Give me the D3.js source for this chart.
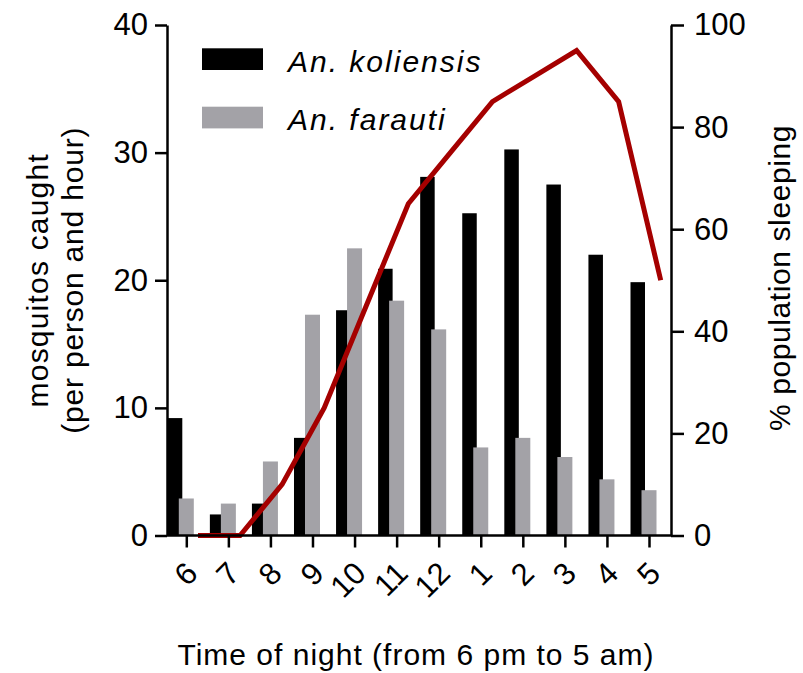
<!DOCTYPE html>
<html>
<head>
<meta charset="utf-8">
<script src="https://cdn.jsdelivr.net/npm/d3@7"></script>
<style>
  body { margin: 0; background: #fff; }
  text { font-family: "Liberation Sans", Arial, sans-serif; fill: #000; }
</style>
</head>
<body>
<svg id="chart"></svg>
<script>
// values
const hours = ["6", "7", "8", "9", "10", "11", "12", "1", "2", "3", "4", "5"];
const koliensis = [9.2, 1.65, 2.5, 7.65, 17.65, 20.9, 28.1, 25.25, 30.25, 27.5, 22.0, 19.85];
const farauti = [2.9, 2.5, 5.8, 17.3, 22.5, 18.4, 16.15, 6.9, 7.65, 6.15, 4.4, 3.55];
const sleeping = [0, 0, 10, 25, 45, 65, 75, 85, 90, 95, 85, 50];
const leftTicks = [0, 10, 20, 30, 40];
const rightTicks = [0, 20, 40, 60, 80, 100];
const seriesNames = ["An. koliensis", "An. farauti"];

const w = 803;
const h = 673;
const plotLeft = 167;
const plotRight = 671;
const plotTop = 25;
const plotBottom = 535.5;
const blackColor = "#000000";
const grayColor = "#a3a2a7";
const lineColor = "#a50000";

const svg = d3.select("#chart").attr("width", w).attr("height", h);

const xScale = d3.scalePoint().domain(hours).range([186.3, 649]);
const yScale = d3.scaleLinear().domain([0, 40]).range([plotBottom, plotTop]);
const y2Scale = d3.scaleLinear().domain([0, 100]).range([plotBottom, plotTop]);

// bars
svg.append("g")
  .selectAll("rect")
  .data(hours)
  .enter()
  .append("rect")
  .attr("x", (d) => xScale(d) - 18.5)
  .attr("width", 14.5)
  .attr("y", (d, i) => yScale(koliensis[i]))
  .attr("height", (d, i) => plotBottom - yScale(koliensis[i]))
  .style("fill", blackColor);

svg.append("g")
  .selectAll("rect")
  .data(hours)
  .enter()
  .append("rect")
  .attr("x", (d) => xScale(d) - 7.5)
  .attr("width", 15)
  .attr("y", (d, i) => yScale(farauti[i]))
  .attr("height", (d, i) => plotBottom - yScale(farauti[i]))
  .style("fill", grayColor);

// sleeping line
const line = d3.line()
  .x((d, i) => xScale(hours[i]) + 11.7)
  .y((d) => y2Scale(d));

svg.append("path")
  .datum(sleeping)
  .attr("d", line)
  .style("fill", "none")
  .style("stroke", lineColor)
  .style("stroke-width", 5)
  .style("stroke-linejoin", "miter");

// axes
const yAxis = d3.axisLeft(yScale).tickValues(leftTicks).tickSize(12).tickSizeOuter(0).tickPadding(7);
const gy = svg.append("g")
  .attr("transform", "translate(" + plotLeft + ",0)")
  .call(yAxis);

const y2Axis = d3.axisRight(y2Scale).tickValues(rightTicks).tickSize(13).tickSizeOuter(0).tickPadding(10);
const gy2 = svg.append("g")
  .attr("transform", "translate(" + plotRight + ",0)")
  .call(y2Axis);

const xAxis = d3.axisBottom(xScale).tickSize(12).tickSizeOuter(0);
const gx = svg.append("g")
  .attr("transform", "translate(0," + plotBottom + ")")
  .call(xAxis);
gx.select(".domain").attr("d", "M" + plotLeft + ",0H" + plotRight);

gx.selectAll(".tick text")
  .attr("text-anchor", "end")
  .attr("y", 0)
  .attr("dy", "0.35em")
  .attr("transform", "translate(5,32) rotate(-45)");

[gy, gy2, gx].forEach((g) => {
  g.selectAll(".domain, .tick line").style("stroke", "#000").style("stroke-width", 2.5);
  g.selectAll(".tick text")
    .style("font-size", "31px")
    .style("font-family", "'Liberation Sans', Arial, sans-serif")
    .style("fill", "#000");
});

// axis titles
svg.append("text")
  .attr("transform", "translate(48," + (plotTop + plotBottom) / 2 + ") rotate(-90)")
  .attr("text-anchor", "middle")
  .style("font-size", "30px")
  .style("letter-spacing", "1.2px")
  .text("mosquitos caught");

svg.append("text")
  .attr("transform", "translate(83," + (plotTop + plotBottom) / 2 + ") rotate(-90)")
  .attr("text-anchor", "middle")
  .style("font-size", "30px")
  .style("letter-spacing", "0.8px")
  .text("(per person and hour)");

svg.append("text")
  .attr("transform", "translate(790,278) rotate(-90)")
  .attr("text-anchor", "middle")
  .style("font-size", "30px")
  .style("letter-spacing", "0.6px")
  .text("% population sleeping");

svg.append("text")
  .attr("x", 416)
  .attr("y", 665)
  .attr("text-anchor", "middle")
  .style("font-size", "30px")
  .style("letter-spacing", "1px")
  .text("Time of night (from 6 pm to 5 am)");

// legend
const legend = svg.append("g").attr("id", "legend");
const legendColors = [blackColor, grayColor];
seriesNames.forEach((name, i) => {
  legend.append("rect")
    .attr("x", 202)
    .attr("y", 48.3 + i * 58.4)
    .attr("width", 61)
    .attr("height", 21.7)
    .style("fill", legendColors[i]);
  legend.append("text")
    .attr("x", 288)
    .attr("y", 72 + i * 58.4)
    .style("font-size", "30px")
    .style("font-style", "italic")
    .style("letter-spacing", "2px")
    .text(name);
});
</script>
</body>
</html>
